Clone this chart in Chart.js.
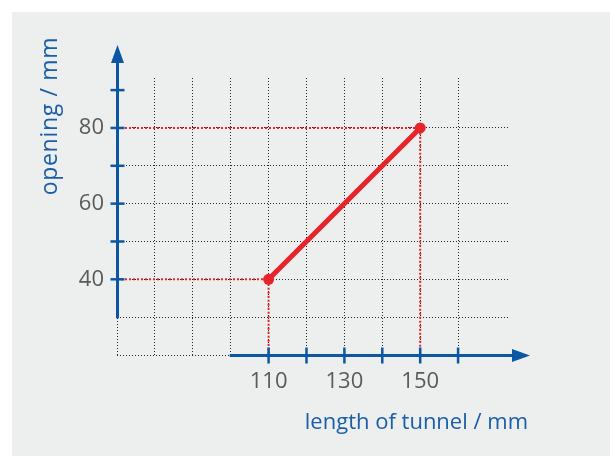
<!DOCTYPE html>
<html><head><meta charset="utf-8">
<script src="https://cdn.jsdelivr.net/npm/chart.js@4"></script>
<style>html,body{margin:0;padding:0;background:#fff}#wrap{width:613px;height:456px}</style>
</head><body><div id="wrap"><canvas id="c" width="613" height="456"></canvas></div>
<script>
// ---- data ----
const xGridValues = [70, 80, 90, 100, 110, 120, 130, 140, 150, 160];
const yGridValues = [20, 30, 40, 50, 60, 70, 80];
const xTickValues = [110, 120, 130, 140, 150, 160];
const yTickValues = [40, 50, 60, 70, 80, 90];
const xLabelValues = [110, 130, 150];
const yLabelValues = [40, 60, 80];
const lineX = [110, 150];
const lineY = [40, 80];
const xTitle = 'length of tunnel / mm';
const yTitle = 'opening / mm';
const xAxisStart = 100;
const yAxisStart = 30;
const xMin = 70, xMax = 173.7, yMin = 20, yMax = 93.2;

// ---- styles ----
const RED = '#e8242b';
const BLUE = '#0b57a4';
const TITLE_BLUE = '#1a5ea8';
const LABEL = '#5a5a5a';
const GRID = '#262626';
const FONT = "'Open Sans', 'Noto Sans', sans-serif";

const axesPlugin = {
  id: 'axesPlugin',
  beforeDraw(chart) {
    const ctx = chart.ctx;
    ctx.save();
    ctx.fillStyle = '#edeeee';
    ctx.fillRect(12, 12, 598, 444);
    ctx.restore();
  },
  afterDraw(chart) {
    const ctx = chart.ctx, ca = chart.chartArea;
    const xs = chart.scales.x, ys = chart.scales.y;
    ctx.save();
    ctx.strokeStyle = BLUE; ctx.fillStyle = BLUE;
    // y axis
    const ax = Math.round(xs.getPixelForValue(xMin)) + 0.5;
    const yTip = ca.top - 33;
    ctx.lineWidth = 3;
    ctx.beginPath();
    ctx.moveTo(ax, ys.getPixelForValue(yAxisStart) + 1);
    ctx.lineTo(ax, yTip + 12);
    ctx.stroke();
    ctx.beginPath();
    ctx.moveTo(ax, yTip); ctx.lineTo(ax - 6.5, yTip + 18); ctx.lineTo(ax + 6.5, yTip + 18); ctx.closePath(); ctx.fill();
    ctx.lineWidth = 2.5;
    yTickValues.forEach(v => {
      const py = ys.getPixelForValue(v);
      ctx.beginPath(); ctx.moveTo(ax - 7, py); ctx.lineTo(ax + 7, py); ctx.stroke();
    });
    // x axis
    const ay = Math.round(ys.getPixelForValue(yMin)) + 0.5;
    const xTip = ca.right + 20;
    ctx.lineWidth = 3;
    ctx.beginPath();
    ctx.moveTo(xs.getPixelForValue(xAxisStart) - 1, ay);
    ctx.lineTo(xTip - 12, ay);
    ctx.stroke();
    ctx.beginPath();
    ctx.moveTo(xTip, ay); ctx.lineTo(xTip - 18, ay - 6.5); ctx.lineTo(xTip - 18, ay + 6.5); ctx.closePath(); ctx.fill();
    ctx.lineWidth = 2.5;
    xTickValues.forEach(v => {
      const px = xs.getPixelForValue(v);
      ctx.beginPath(); ctx.moveTo(px, ay - 8); ctx.lineTo(px, ay + 8); ctx.stroke();
    });
    // titles
    ctx.fillStyle = TITLE_BLUE;
    ctx.font = '22px ' + FONT;
    ctx.textBaseline = 'alphabetic';
    ctx.textAlign = 'right';
    ctx.fillText(xTitle, ca.right + 18, ca.bottom + 74);
    ctx.translate(57, ca.top + 38);
    ctx.rotate(-Math.PI / 2);
    ctx.font = '23px ' + FONT;
    try { ctx.letterSpacing = '0.7px'; } catch (e) {}
    ctx.textAlign = 'center';
    ctx.fillText(yTitle, 0, 0);
    ctx.restore();
  }
};

new Chart(document.getElementById('c'), {
  type: 'scatter',
  data: {
    datasets: [
      {
        data: lineX.map((x, i) => ({ x, y: lineY[i] })),
        showLine: true, borderColor: RED, backgroundColor: RED,
        borderWidth: 5, pointRadius: 5.5, pointBorderWidth: 0,
        pointBackgroundColor: RED, order: 0
      },
      {
        data: [{ x: xMin, y: lineY[1] }, { x: lineX[1], y: lineY[1] }, { x: lineX[1], y: yMin }],
        showLine: true, borderColor: RED, borderWidth: 2, borderDash: [2, 2],
        pointRadius: 0, order: 1
      },
      {
        data: [{ x: xMin, y: lineY[0] }, { x: lineX[0], y: lineY[0] }, { x: lineX[0], y: yMin }],
        showLine: true, borderColor: RED, borderWidth: 2, borderDash: [2, 2],
        pointRadius: 0, order: 1
      }
    ]
  },
  options: {
    animation: false, responsive: false, devicePixelRatio: 1,
    layout: { padding: { top: 78, right: 103, left: 0, bottom: 0 } },
    plugins: { legend: { display: false }, tooltip: { enabled: false } },
    scales: {
      x: {
        type: 'linear', min: xMin, max: xMax,
        afterBuildTicks: s => { s.ticks = xGridValues.map(v => ({ value: v })); },
        afterFit: s => { s.height = 101; },
        grid: { color: GRID, lineWidth: 1, drawTicks: false },
        border: { display: false, dash: [1, 2] },
        ticks: {
          autoSkip: false, maxRotation: 0, padding: 14, color: LABEL,
          font: { family: FONT, size: 22 },
          callback: v => xLabelValues.includes(v) ? String(v) : ''
        }
      },
      y: {
        type: 'linear', min: yMin, max: yMax,
        afterBuildTicks: s => { s.ticks = yGridValues.map(v => ({ value: v })); },
        afterFit: s => { s.width = 117; },
        grid: { color: GRID, lineWidth: 1, drawTicks: false },
        border: { display: false, dash: [1, 2] },
        ticks: {
          autoSkip: false, padding: 13, color: LABEL,
          font: { family: FONT, size: 22 },
          callback: v => yLabelValues.includes(v) ? String(v) : ''
        }
      }
    }
  },
  plugins: [axesPlugin]
});
</script>
</body></html>
